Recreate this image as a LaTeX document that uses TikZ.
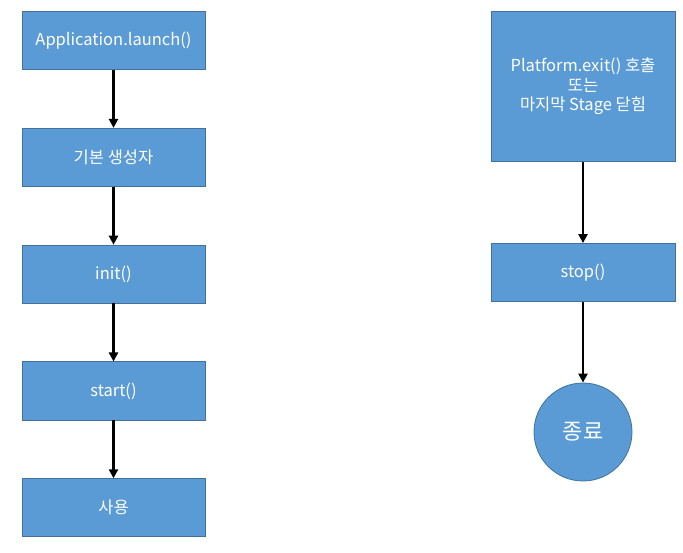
\documentclass[tikz,border=0pt]{standalone}
\usepackage{fontspec}
\setmainfont{Noto Sans CJK KR}
\usetikzlibrary{arrows.meta,positioning}
\definecolor{boxblue}{HTML}{5B9BD5}
\definecolor{edgeblue}{HTML}{41719C}
\tikzset{
  stepbox/.style={draw=edgeblue,line width=.8pt,fill=boxblue,text=white,align=center,
                  font=\fontsize{16.5}{19.5}\selectfont,minimum width=183pt,minimum height=58pt,inner sep=2pt},
  endnode/.style={circle,draw=edgeblue,line width=.8pt,fill=boxblue,text=white,
                  font=\fontsize{22}{26}\selectfont,minimum size=98pt,inner sep=0pt},
  a/.style={-{Triangle[length=9pt,width=9pt]},line width=2.6pt,black},
}
\begin{document}
\begin{tikzpicture}[x=1pt,y=1pt,node distance=58pt]
  \useasboundingbox (0,0) rectangle (683,-553);
  % launch sequence
  \node[stepbox] (launch) at (113.5,-40.5) {Application.launch()};
  \node[stepbox,below=of launch] (ctor) {기본 생성자};
  \node[stepbox,below=of ctor] (init) {init()};
  \node[stepbox,below=of init] (start) {start()};
  \node[stepbox,below=of start] (use) {사용};
  \draw[a] (launch) -- (ctor);
  \draw[a] (ctor) -- (init);
  \draw[a] (init) -- (start);
  \draw[a] (start) -- (use);

  % shutdown sequence
  \node[stepbox,minimum width=184pt,minimum height=150pt] (exit) at (583,-86.5)
        {Platform.exit() 호출\\또는\\마지막 Stage 닫힘};
  \node[stepbox,minimum width=184pt] (stop) at (583,-272.5) {stop()};
  \node[endnode] (end) at (583,-432) {종료};
  \draw[a] (exit) -- (stop);
  \draw[a] (stop) -- (end);
\end{tikzpicture}
\end{document}
